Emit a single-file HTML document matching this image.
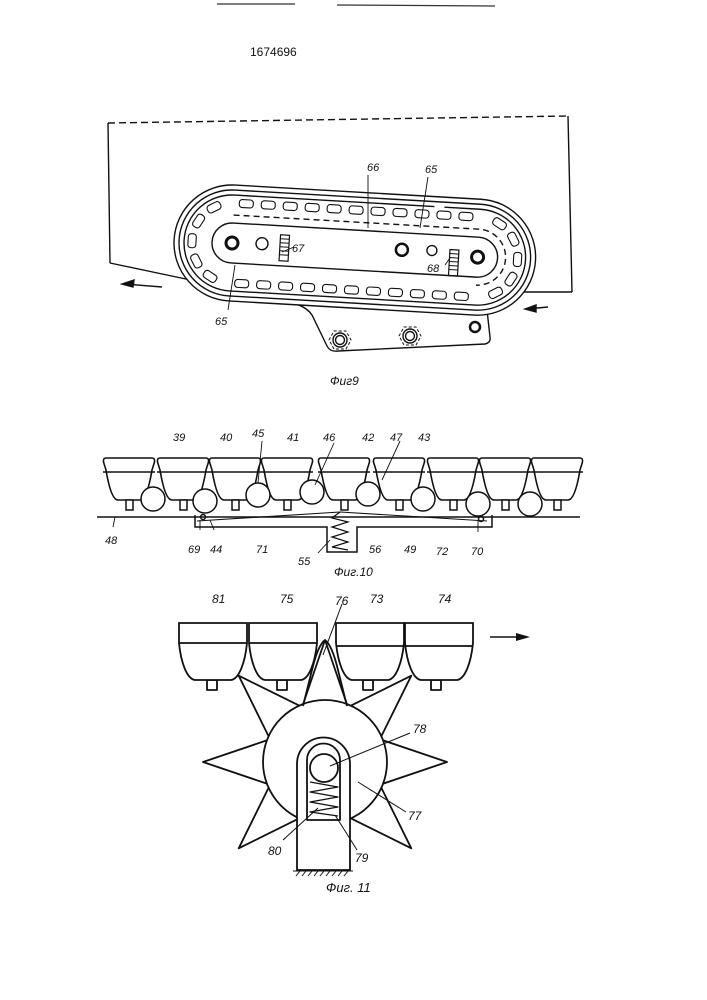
<!DOCTYPE html>
<html><head><meta charset="utf-8"><style>
html,body{margin:0;padding:0;background:#fff}
svg{display:block}
text{font-family:"Liberation Sans",sans-serif;font-style:italic;fill:#111}
</style></head><body>
<svg width="707" height="1000" viewBox="0 0 707 1000" xmlns="http://www.w3.org/2000/svg">
<defs>
<path id="b10" d="M3,0 H49 Q52,0 51.5,4 L49,12 C46,30 42,42 37,42 H15 C10,42 6,30 3,12 L0.5,4 Q0,0 3,0 Z" fill="#fff" stroke="#111" stroke-width="1.6"/>
<path id="b11" d="M0,0 H68 V20 C66,40 60,56 52,57 H16 C8,56 2,40 0,20 Z" fill="#fff" stroke="#111" stroke-width="1.8"/>
<rect id="lk" x="-7" y="-4" width="14" height="8" rx="3" fill="#fff" stroke="#111" stroke-width="1.1"/>
</defs>
<g stroke="#333" stroke-width="1.3"><line x1="217" y1="4" x2="295" y2="4"/><line x1="337" y1="5" x2="495" y2="6"/></g>
<text x="250" y="56" font-size="12" style="font-style:normal">1674696</text>

<!-- Fig 9 -->
<g fill="none" stroke="#111" stroke-width="1.4">
<line x1="108" y1="123" x2="568" y2="116" stroke-dasharray="7,4"/>
<line x1="108" y1="123" x2="110" y2="263"/>
<line x1="568" y1="116" x2="572" y2="292"/>
<line x1="110" y1="263" x2="200" y2="282"/>
<line x1="500" y1="292" x2="572" y2="292"/>
<path d="M290,303 Q305,305 312,315 L327,346 Q330,352 338,351 L485,344 Q491,343 490,337 L487,310 Q488,303 497,298" fill="#fff"/>
<line x1="290" y1="303" x2="480" y2="303"/>
<g transform="translate(232,243) rotate(3.3)">
<path d="M0,-58 H246 A58,58 0 0 1 246,58 H0 A58,58 0 0 1 0,-58 Z" fill="#fff"/>
<path d="M0,-53 H246 A53,53 0 0 1 246,53 H0 A53,53 0 0 1 0,-53 Z"/>
<path d="M0,-48 H200 M0,-48 A48,48 0 0 0 0,48 H246 A48,48 0 0 0 246,-48 H210"/>
<path d="M0,-28 H246 A28,28 0 0 1 246,28" stroke-dasharray="6,4"/>
<path d="M0,-20 H246 A20,20 0 0 1 246,20 H0 A20,20 0 0 1 0,-20 Z"/>
<g>
<use href="#lk" x="12" y="-40"/><use href="#lk" x="34" y="-40"/><use href="#lk" x="56" y="-40"/><use href="#lk" x="78" y="-40"/><use href="#lk" x="100" y="-40"/><use href="#lk" x="122" y="-40"/><use href="#lk" x="144" y="-40"/><use href="#lk" x="166" y="-40"/><use href="#lk" x="188" y="-40"/><use href="#lk" x="210" y="-40"/><use href="#lk" x="232" y="-40"/>
<use href="#lk" x="12" y="40"/><use href="#lk" x="34" y="40"/><use href="#lk" x="56" y="40"/><use href="#lk" x="78" y="40"/><use href="#lk" x="100" y="40"/><use href="#lk" x="122" y="40"/><use href="#lk" x="144" y="40"/><use href="#lk" x="166" y="40"/><use href="#lk" x="188" y="40"/><use href="#lk" x="210" y="40"/><use href="#lk" x="232" y="40"/>
<use href="#lk" transform="translate(-20,34.6) rotate(30)"/><use href="#lk" transform="translate(-34.6,20) rotate(60)"/><use href="#lk" transform="translate(-40,0) rotate(90)"/><use href="#lk" transform="translate(-34.6,-20) rotate(120)"/><use href="#lk" transform="translate(-20,-34.6) rotate(150)"/>
<use href="#lk" transform="translate(266,-34.6) rotate(30)"/><use href="#lk" transform="translate(280.6,-20) rotate(60)"/><use href="#lk" transform="translate(286,0) rotate(90)"/><use href="#lk" transform="translate(280.6,20) rotate(120)"/><use href="#lk" transform="translate(266,34.6) rotate(150)"/>
</g>
<circle cx="0" cy="0" r="6" stroke-width="3"/>
<circle cx="30" cy="-1" r="6"/>
<rect x="48" y="-11" width="9" height="26" fill="url(#h)" stroke-width="1.2"/>
<circle cx="170" cy="-3" r="6" stroke-width="2.5"/>
<circle cx="200" cy="-4" r="5"/>
<rect x="218" y="-6" width="9" height="26" stroke-width="1.2"/>
<circle cx="246" cy="0" r="6" stroke-width="3"/>
<g stroke-width="1"><line x1="48" y1="-7" x2="57" y2="-7"/><line x1="48" y1="-3" x2="57" y2="-3"/><line x1="48" y1="1" x2="57" y2="1"/><line x1="48" y1="5" x2="57" y2="5"/><line x1="48" y1="9" x2="57" y2="9"/><line x1="218" y1="-2" x2="227" y2="-2"/><line x1="218" y1="2" x2="227" y2="2"/><line x1="218" y1="6" x2="227" y2="6"/><line x1="218" y1="10" x2="227" y2="10"/><line x1="218" y1="14" x2="227" y2="14"/></g>
</g>
<circle cx="340" cy="340" r="7"/><circle cx="340" cy="340" r="4.5"/><polygon points="329,340 334,331 346,331 351,340 346,349 334,349" stroke-dasharray="3,2" stroke-width="1"/>
<circle cx="410" cy="336" r="7"/><circle cx="410" cy="336" r="4.5"/><polygon points="399,336 404,327 416,327 421,336 416,345 404,345" stroke-dasharray="3,2" stroke-width="1"/>
<circle cx="475" cy="327" r="5" stroke-width="2.5"/>
<line x1="125" y1="284" x2="162" y2="287"/><polygon points="122,284 134,280 133,287" fill="#111"/>
<line x1="527" y1="309" x2="548" y2="307"/><polygon points="525,309 536,305 536,312" fill="#111"/>
<g stroke-width="0.9"><line x1="368" y1="175" x2="368" y2="228"/><line x1="428" y1="177" x2="420" y2="228"/><line x1="282" y1="252" x2="294" y2="247"/><line x1="445" y1="265" x2="450" y2="258"/><line x1="228" y1="310" x2="235" y2="265"/></g>
</g>
<g font-size="11"><text x="367" y="171">66</text><text x="425" y="173">65</text><text x="292" y="252">67</text><text x="427" y="272">68</text><text x="215" y="325">65</text></g>
<text x="330" y="385" font-size="12">Фиг9</text>

<!-- Fig 10 -->
<g fill="none" stroke="#111" stroke-width="1.5">
<line x1="97" y1="517" x2="580" y2="517"/>
<path d="M195,515 V527 H327 V552 H357 V527 H492 V515"/>
<path d="M197,521 L340,512 L487,521" stroke-width="1.1"/>
<polyline points="340,512 332,518 348,522 332,527 348,532 332,537 348,542 332,547 348,550" stroke-width="1.2"/>
<circle cx="203" cy="517" r="2.5"/><circle cx="481" cy="519" r="2.5"/>
</g>
<g>
<use href="#b10" x="103" y="458"/><use href="#b10" x="157" y="458"/><use href="#b10" x="209" y="458"/><use href="#b10" x="261" y="458"/><use href="#b10" x="318" y="458"/><use href="#b10" x="373" y="458"/><use href="#b10" x="427" y="458"/><use href="#b10" x="479" y="458"/><use href="#b10" x="531" y="458"/>
</g>
<g fill="#fff" stroke="#111" stroke-width="1.5">
<line x1="103" y1="472" x2="155" y2="472"/><line x1="157" y1="472" x2="209" y2="472"/><line x1="209" y1="472" x2="261" y2="472"/><line x1="261" y1="472" x2="313" y2="472"/><line x1="318" y1="472" x2="370" y2="472"/><line x1="373" y1="472" x2="425" y2="472"/><line x1="427" y1="472" x2="479" y2="472"/><line x1="479" y1="472" x2="531" y2="472"/><line x1="531" y1="472" x2="583" y2="472"/>
<rect x="126" y="500" width="7" height="10"/><rect x="180" y="500" width="7" height="10"/><rect x="232" y="500" width="7" height="10"/><rect x="284" y="500" width="7" height="10"/><rect x="341" y="500" width="7" height="10"/><rect x="396" y="500" width="7" height="10"/><rect x="450" y="500" width="7" height="10"/><rect x="502" y="500" width="7" height="10"/><rect x="554" y="500" width="7" height="10"/>
<circle cx="153" cy="499" r="12"/><circle cx="205" cy="501" r="12"/><circle cx="258" cy="495" r="12"/><circle cx="312" cy="492" r="12"/><circle cx="368" cy="494" r="12"/><circle cx="423" cy="499" r="12"/><circle cx="478" cy="504" r="12"/><circle cx="530" cy="504" r="12"/>
</g>
<g stroke="#111" stroke-width="0.9"><line x1="262" y1="441" x2="258" y2="483"/><line x1="334" y1="443" x2="315" y2="485"/><line x1="400" y1="441" x2="382" y2="480"/><line x1="115" y1="517" x2="113" y2="527"/><line x1="200" y1="520" x2="200" y2="530"/><line x1="210" y1="520" x2="214" y2="530"/><line x1="318" y1="553" x2="330" y2="540"/><line x1="478" y1="521" x2="478" y2="532"/></g>
<g font-size="11"><text x="173" y="441">39</text><text x="220" y="441">40</text><text x="252" y="437">45</text><text x="287" y="441">41</text><text x="323" y="441">46</text><text x="362" y="441">42</text><text x="390" y="441">47</text><text x="418" y="441">43</text><text x="105" y="544">48</text><text x="188" y="553">69</text><text x="210" y="553">44</text><text x="256" y="553">71</text><text x="298" y="565">55</text><text x="369" y="553">56</text><text x="404" y="553">49</text><text x="436" y="555">72</text><text x="471" y="555">70</text></g>
<text x="334" y="576" font-size="12">Фиг.10</text>

<!-- Fig 11 -->
<g fill="#fff" stroke="#111" stroke-width="1.8" stroke-linejoin="round">
<rect x="207" y="680" width="10" height="10"/><rect x="277" y="680" width="10" height="10"/><rect x="363" y="680" width="10" height="10"/><rect x="431" y="680" width="10" height="10"/>
<polygon points="325,640 302.5,706 347.5,706"/>
<polygon points="238.7,675.7 269.7,738.5 301.5,706.7"/>
<polygon points="411.3,675.7 348.5,706.8 380.2,738.5"/>
<polygon points="203,762 269.4,784.5 269.4,739.5"/>
<polygon points="447,762 380.6,739.5 380.6,784.5"/>
<polygon points="238.7,848.3 301.5,817.2 269.7,785.5"/>
<polygon points="411.3,848.3 380.2,785.5 348.5,817.2"/>
<circle cx="325" cy="762" r="62"/>
<path d="M297,870 V764 A26.5,26.5 0 0 1 350,764 V870 Z"/>
<path d="M307,820 V760 A16.5,16.5 0 0 1 340,760 V820 Z"/>
<circle cx="324" cy="768" r="14"/>
<polyline points="310,782 338,787 310,792 338,797 310,802 338,807 310,812 338,816" fill="none" stroke-width="1.3"/>
</g>
<g>
<use href="#b11" x="179" y="623"/><use href="#b11" x="249" y="623"/><use href="#b11" x="336" y="623"/><use href="#b11" x="405" y="623"/>
</g>
<g stroke="#111" stroke-width="1.8"><line x1="179" y1="643" x2="247" y2="643"/><line x1="249" y1="643" x2="317" y2="643"/><line x1="336" y1="646" x2="404" y2="646"/><line x1="405" y1="646" x2="473" y2="646"/></g>
<path d="M325,640 Q318,645 312,670 L303,706" fill="none" stroke="#111" stroke-width="1.8"/>
<path d="M325,640 Q332,645 338,670 L347,706" fill="none" stroke="#111" stroke-width="1.8"/>
<g stroke="#111" stroke-width="1"><line x1="293" y1="871" x2="353" y2="871"/><line x1="296" y1="876" x2="300" y2="871"/><line x1="302" y1="876" x2="306" y2="871"/><line x1="308" y1="876" x2="312" y2="871"/><line x1="314" y1="876" x2="318" y2="871"/><line x1="320" y1="876" x2="324" y2="871"/><line x1="326" y1="876" x2="330" y2="871"/><line x1="332" y1="876" x2="336" y2="871"/><line x1="338" y1="876" x2="342" y2="871"/><line x1="344" y1="876" x2="348" y2="871"/>
<line x1="330" y1="766" x2="410" y2="733"/><line x1="358" y1="782" x2="406" y2="812"/><line x1="283" y1="840" x2="318" y2="808"/><line x1="357" y1="850" x2="335" y2="815"/><line x1="342" y1="604" x2="323" y2="655"/></g>
<line x1="490" y1="637" x2="520" y2="637" stroke="#111" stroke-width="1.6"/><polygon points="530,637 516,633 516,641" fill="#111"/>
<g font-size="12"><text x="212" y="603">81</text><text x="280" y="603">75</text><text x="335" y="605">76</text><text x="370" y="603">73</text><text x="438" y="603">74</text><text x="413" y="733">78</text><text x="408" y="820">77</text><text x="268" y="855">80</text><text x="355" y="862">79</text></g>
<text x="326" y="892" font-size="13">Фиг. 11</text>
</svg>
</body></html>
